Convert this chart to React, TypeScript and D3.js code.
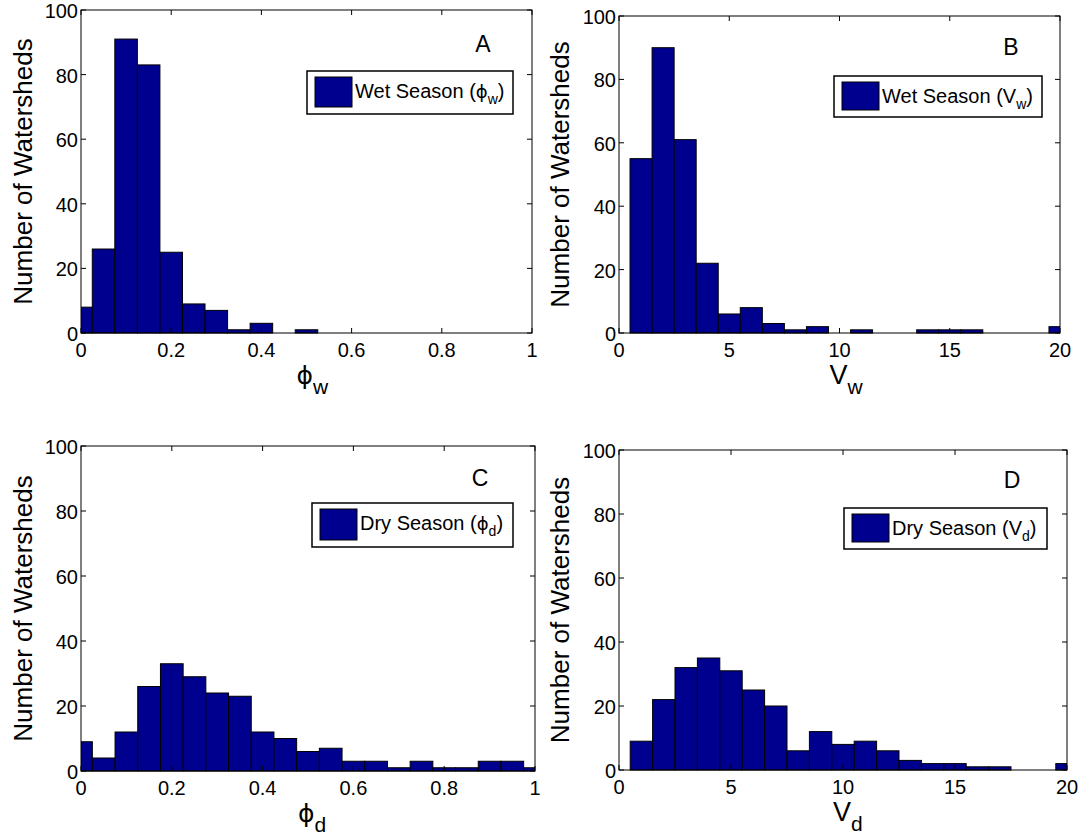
import React from "react";
import * as d3 from "d3";

// ---- data ----
const phiBinCenters = [0, 0.05, 0.1, 0.15, 0.2, 0.25, 0.3, 0.35, 0.4, 0.45, 0.5, 0.55, 0.6, 0.65, 0.7, 0.75, 0.8, 0.85, 0.9, 0.95, 1.0];
const vBinCenters = [1, 2, 3, 4, 5, 6, 7, 8, 9, 10, 11, 12, 13, 14, 15, 16, 17, 18, 19, 20];
const phiWetCounts = [8, 26, 91, 83, 25, 9, 7, 1, 3, 0, 1, 0, 0, 0, 0, 0, 0, 0, 0, 0, 0];
const vWetCounts = [55, 90, 61, 22, 6, 8, 3, 1, 2, 0, 1, 0, 0, 1, 1, 1, 0, 0, 0, 2];
const phiDryCounts = [9, 4, 12, 26, 33, 29, 24, 23, 12, 10, 6, 7, 3, 3, 1, 3, 1, 1, 3, 3, 1];
const vDryCounts = [9, 22, 32, 35, 31, 25, 20, 6, 12, 8, 9, 6, 3, 2, 2, 1, 1, 0, 0, 2];
const phiTicks = [0, 0.2, 0.4, 0.6, 0.8, 1];
const vTicks = [0, 5, 10, 15, 20];
const yTicks = [0, 20, 40, 60, 80, 100];
const panelLetters = ["A", "B", "C", "D"];
const PHI = "\u03D5";
const legendLabels = [
  { pre: "Wet Season (", sym: PHI, sub: "w" },
  { pre: "Wet Season (", sym: "V", sub: "w" },
  { pre: "Dry Season (", sym: PHI, sub: "d" },
  { pre: "Dry Season (", sym: "V", sub: "d" },
];
const xLabels = [
  { sym: PHI, sub: "w" },
  { sym: "V", sub: "w" },
  { sym: PHI, sub: "d" },
  { sym: "V", sub: "d" },
];
const yLabel = "Number of Watersheds";

// ---- layout ----
const panels = [
  { centers: phiBinCenters, counts: phiWetCounts, width: 0.05, xDomain: [0, 1], xTicks: phiTicks,
    box: { l: 81, r: 532, t: 10, b: 333 }, leg: { x: 307, y: 71, w: 206, h: 43 }, letter: { x: 483, y: 52 }, yLabX: 23 },
  { centers: vBinCenters, counts: vWetCounts, width: 1, xDomain: [0, 20], xTicks: vTicks,
    box: { l: 619, r: 1060, t: 16, b: 333 }, leg: { x: 834, y: 76, w: 208, h: 41 }, letter: { x: 1011, y: 55 }, yLabX: 560 },
  { centers: phiBinCenters, counts: phiDryCounts, width: 0.05, xDomain: [0, 1], xTicks: phiTicks,
    box: { l: 81, r: 535, t: 446, b: 771 }, leg: { x: 312, y: 503, w: 201, h: 44 }, letter: { x: 480, y: 486 }, yLabX: 23 },
  { centers: vBinCenters, counts: vDryCounts, width: 1, xDomain: [0, 20], xTicks: vTicks,
    box: { l: 619, r: 1067, t: 450, b: 770 }, leg: { x: 844, y: 508, w: 203, h: 41 }, letter: { x: 1012, y: 488 }, yLabX: 560 },
];

const FONT = "'Liberation Sans', Arial, Helvetica, sans-serif";
const SYMFONT = "'DejaVu Sans', sans-serif";
const BAR = "#00008F";

function Panel({ p, i }: { p: any; i: number }) {
  const { box } = p;
  const x = d3.scaleLinear().domain(p.xDomain).range([box.l, box.r]);
  const y = d3.scaleLinear().domain([0, 100]).range([box.b, box.t]);
  const clipId = `clip${i}`;
  const tickLen = 5;
  const fmt = (v: number) => String(v);
  const leg = p.leg;
  const lab = legendLabels[i];
  const xl = xLabels[i];
  const midX = (box.l + box.r) / 2;
  const midY = (box.t + box.b) / 2;
  const isPhi = (s: string) => s === PHI;
  return (
    <g>
      <defs>
        <clipPath id={clipId}>
          <rect x={box.l} y={box.t - 1} width={box.r - box.l} height={box.b - box.t + 2} />
        </clipPath>
      </defs>
      <rect x={box.l} y={box.t} width={box.r - box.l} height={box.b - box.t} fill="#fff" />
      <g clipPath={`url(#${clipId})`}>
        {p.centers.map((c: number, k: number) => {
          const x0 = x(c - p.width / 2);
          const x1 = x(c + p.width / 2);
          const v = p.counts[k];
          return (
            <rect key={k} x={x0} y={y(v)} width={x1 - x0} height={y(0) - y(v)}
              fill={BAR} stroke="#000" strokeWidth={1} />
          );
        })}
      </g>
      <rect x={box.l} y={box.t} width={box.r - box.l} height={box.b - box.t} fill="none" stroke="#000" strokeWidth={1} />
      {p.xTicks.map((t: number) => (
        <g key={"xt" + t}>
          <line x1={x(t)} x2={x(t)} y1={box.b} y2={box.b - tickLen} stroke="#000" />
          <line x1={x(t)} x2={x(t)} y1={box.t} y2={box.t + tickLen} stroke="#000" />
          <text x={x(t)} y={box.b + 24} textAnchor="middle" fontSize={20} fontFamily={FONT}>{fmt(t)}</text>
        </g>
      ))}
      {yTicks.map((t) => (
        <g key={"yt" + t}>
          <line x1={box.l} x2={box.l + tickLen} y1={y(t)} y2={y(t)} stroke="#000" />
          <line x1={box.r} x2={box.r - tickLen} y1={y(t)} y2={y(t)} stroke="#000" />
          <text x={box.l - 3} y={y(t) + 8} textAnchor="end" fontSize={20} fontFamily={FONT}>{fmt(t)}</text>
        </g>
      ))}
      <text transform={`translate(${p.yLabX + 9},${midY}) rotate(-90)`} textAnchor="middle" fontSize={26} fontFamily={FONT}>{yLabel}</text>
      <text x={midX - 10} y={box.b + 51} fontSize={27} fontFamily={FONT}>
        <tspan fontFamily={isPhi(xl.sym) ? SYMFONT : FONT} fontSize={isPhi(xl.sym) ? 25 : 27}>{xl.sym}</tspan>
        <tspan fontSize={21} dy={10}>{xl.sub}</tspan>
      </text>
      <text x={p.letter.x} y={p.letter.y} textAnchor="middle" fontSize={23} fontFamily={FONT}>{panelLetters[i]}</text>
      <rect x={leg.x} y={leg.y} width={leg.w} height={leg.h} fill="#fff" stroke="#000" strokeWidth={1.5} />
      <rect x={leg.x + 8} y={leg.y + 6} width={37} height={leg.h - 13} fill={BAR} stroke="#000" strokeWidth={1} />
      <text x={leg.x + 48} y={leg.y + 27} fontSize={20} fontFamily={FONT}>
        {lab.pre}
        <tspan fontFamily={isPhi(lab.sym) ? SYMFONT : FONT} fontSize={isPhi(lab.sym) ? 18 : 20}>{lab.sym}</tspan>
        <tspan fontSize={14} dy={6}>{lab.sub}</tspan>
        <tspan dy={-6}>)</tspan>
      </text>
    </g>
  );
}

export default function App() {
  return (
    <svg width={1080} height={837} style={{ position: "absolute", left: 0, top: 0, background: "#fff" }}>
      <rect x={0} y={0} width={1080} height={837} fill="#fff" />
      {panels.map((p, i) => <Panel key={i} p={p} i={i} />)}
    </svg>
  );
}
